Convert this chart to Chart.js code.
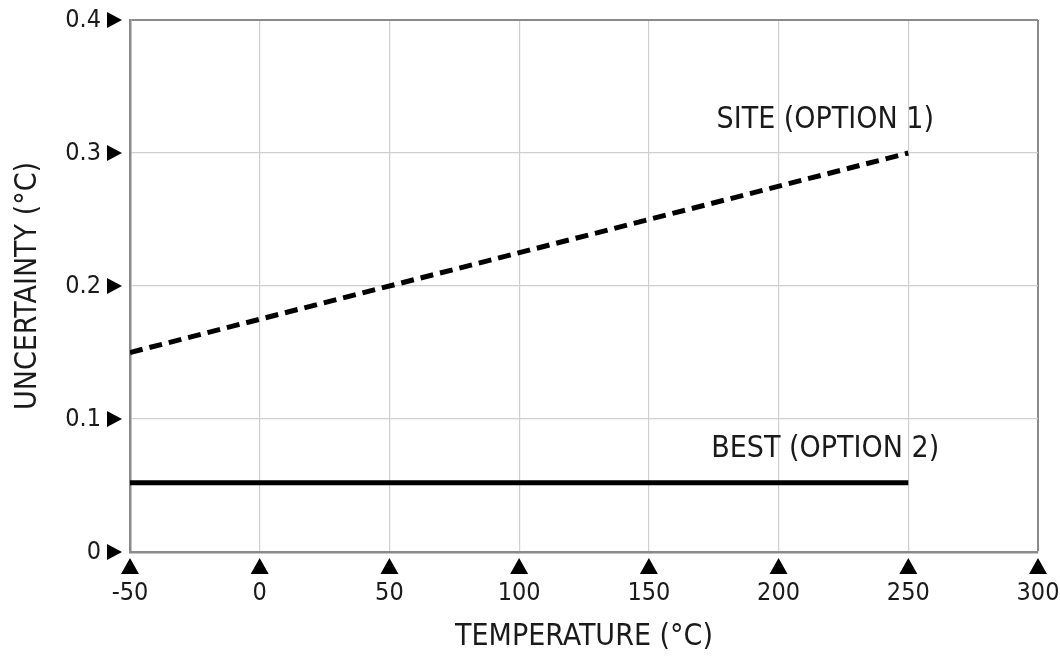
<!DOCTYPE html>
<html>
<head>
<meta charset="utf-8">
<script src="https://cdn.jsdelivr.net/npm/chart.js@4.4.1/dist/chart.umd.min.js"></script>
<style>
  html, body { margin: 0; padding: 0; background: #fff; }
  #wrap { width: 1060px; height: 657px; }
</style>
</head>
<body>
<div id="wrap"><canvas id="uncChart"></canvas></div>
<script>
// Data
const temperatures = [-50, 250];
const siteValues = [0.15, 0.30];
const bestValues = [0.052, 0.052];
const xTicks = [-50, 0, 50, 100, 150, 200, 250, 300];
const yTicks = [0, 0.1, 0.2, 0.3, 0.4];

// Labels placed next to the lines (data coordinates)
const seriesLabels = [
    { text: 'SITE (OPTION 1)', x: 218, y: 0.325 },
    { text: 'BEST (OPTION 2)', x: 218, y: 0.077 }
];

const FONT = '"DejaVu Sans Condensed", "DejaVu Sans", sans-serif';
const TEXT_COLOR = '#1a1a1a';

// Triangle tick markers and line labels
const markersPlugin = {
    id: 'markers',
    afterDraw(chart) {
        const ctx = chart.ctx;
        const xs = chart.scales.x;
        const ys = chart.scales.y;
        const area = chart.chartArea;
        ctx.save();
        ctx.fillStyle = '#000';
        // y axis: right-pointing triangles
        yTicks.forEach(v => {
            const py = ys.getPixelForValue(v);
            const tip = area.left - 8;
            ctx.beginPath();
            ctx.moveTo(tip, py);
            ctx.lineTo(tip - 15, py - 8);
            ctx.lineTo(tip - 15, py + 8);
            ctx.closePath();
            ctx.fill();
        });
        // x axis: up-pointing triangles
        xTicks.forEach(v => {
            const px = xs.getPixelForValue(v);
            const tip = area.bottom + 6;
            ctx.beginPath();
            ctx.moveTo(px, tip);
            ctx.lineTo(px - 9, tip + 16);
            ctx.lineTo(px + 9, tip + 16);
            ctx.closePath();
            ctx.fill();
        });
        ctx.fillStyle = TEXT_COLOR;
        ctx.font = '30px ' + FONT;
        ctx.textAlign = 'center';
        ctx.textBaseline = 'middle';
        seriesLabels.forEach(l => {
            ctx.fillText(l.text, xs.getPixelForValue(l.x), ys.getPixelForValue(l.y));
        });
        ctx.restore();
    }
};

function edgeColor(max) {
    return c => (c.tick && c.tick.value === max) ? '#8a8a8a' : '#cfcfcf';
}
function edgeWidth(max) {
    return c => (c.tick && c.tick.value === max) ? 2 : 1.2;
}
function noOverflow(scale) {
    scale.paddingLeft = 0;
    scale.paddingRight = 0;
    scale.paddingTop = 0;
    scale.paddingBottom = 0;
}

new Chart(document.getElementById('uncChart').getContext('2d'), {
    type: 'line',
    data: {
        labels: temperatures,
        datasets: [
            {
                label: 'SITE (OPTION 1)',
                data: temperatures.map((t, i) => ({ x: t, y: siteValues[i] })),
                borderColor: '#000',
                borderWidth: 5,
                borderDash: [13, 7],
                pointRadius: 0,
                fill: false
            },
            {
                label: 'BEST (OPTION 2)',
                data: temperatures.map((t, i) => ({ x: t, y: bestValues[i] })),
                borderColor: '#000',
                borderWidth: 5,
                pointRadius: 0,
                fill: false
            }
        ]
    },
    options: {
        responsive: true,
        maintainAspectRatio: false,
        animation: false,
        layout: { padding: { top: 20, right: 22, left: 0, bottom: 0 } },
        plugins: {
            legend: { display: false },
            tooltip: { enabled: false }
        },
        scales: {
            x: {
                type: 'linear',
                min: -50,
                max: 300,
                afterFit(scale) { scale.height = 105; noOverflow(scale); },
                afterBuildTicks(scale) { scale.ticks = xTicks.map(v => ({ value: v })); },
                grid: { color: edgeColor(300), lineWidth: edgeWidth(300), drawTicks: false },
                border: { color: '#8a8a8a', width: 2.5 },
                ticks: {
                    padding: 26,
                    maxRotation: 0,
                    color: TEXT_COLOR,
                    font: { family: FONT, size: 25 }
                },
                title: {
                    display: true,
                    text: 'TEMPERATURE (°C)',
                    color: TEXT_COLOR,
                    font: { family: FONT, size: 30 },
                    padding: { top: 0, bottom: 2 }
                }
            },
            y: {
                type: 'linear',
                min: 0,
                max: 0.4,
                afterFit(scale) { scale.width = 130; noOverflow(scale); },
                afterBuildTicks(scale) { scale.ticks = yTicks.map(v => ({ value: v })); },
                grid: { color: edgeColor(0.4), lineWidth: edgeWidth(0.4), drawTicks: false },
                border: { color: '#8a8a8a', width: 2.5 },
                ticks: {
                    padding: 29,
                    color: TEXT_COLOR,
                    font: { family: FONT, size: 25 },
                    callback: v => String(v)
                },
                title: {
                    display: true,
                    text: 'UNCERTAINTY (°C)',
                    color: TEXT_COLOR,
                    font: { family: FONT, size: 30 },
                    padding: { top: 10, bottom: 0 }
                }
            }
        }
    },
    plugins: [markersPlugin]
});
</script>
</body>
</html>
